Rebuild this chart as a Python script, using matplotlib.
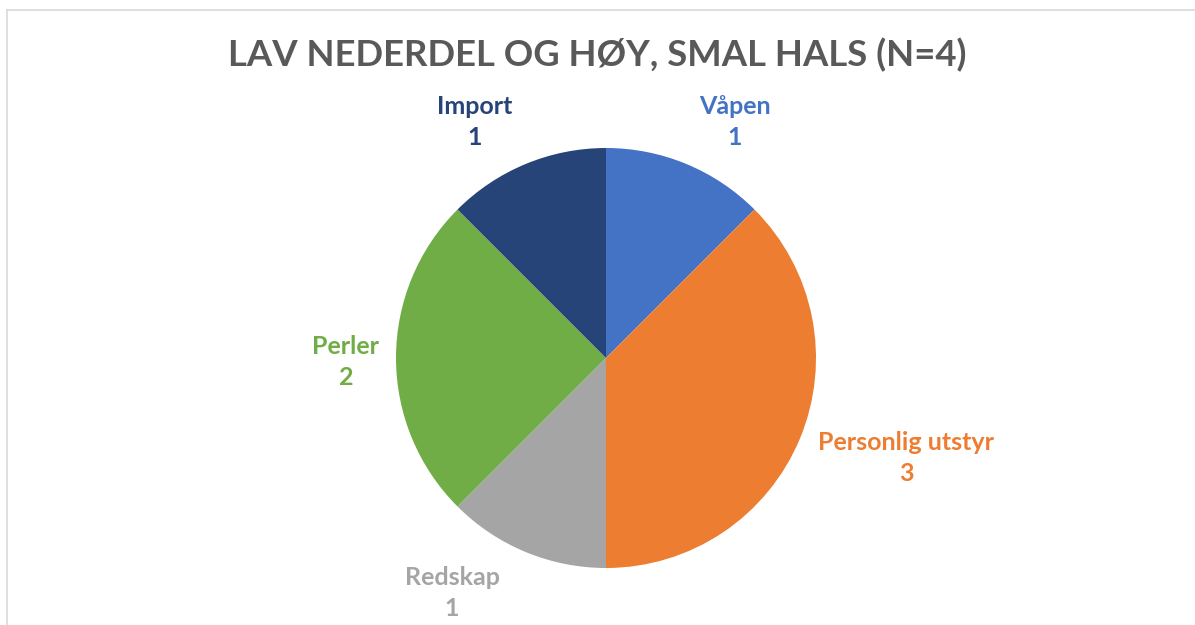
import matplotlib.pyplot as plt
from matplotlib.lines import Line2D

categories = ['Våpen', 'Personlig utstyr', 'Redskap', 'Perler', 'Import']
values = [1, 3, 1, 2, 1]
colors = ['#4472C4', '#ED7D31', '#A5A5A5', '#70AD47', '#264478']

title = 'LAV NEDERDEL OG HØY, SMAL HALS (N=4)'

# label block centres in pixels (from top-left)
label_pos = [(735, 122), (906, 458), (452, 593), (346, 362), (475, 122)]

W, H = 1195, 625
plt.rcParams['font.family'] = ['Lato', 'DejaVu Sans']

fig = plt.figure(figsize=(W / 100, H / 100), dpi=100)
ax = fig.add_axes([0, 0, 1, 1])

cx, cy, r = 606, H - 358, 210
ax.pie(values, colors=colors, startangle=90, counterclock=False,
       center=(cx, cy), radius=r, frame=True,
       wedgeprops={'linewidth': 0})
ax.set_xlim(0, W)
ax.set_ylim(0, H)
ax.set_aspect('auto')
ax.axis('off')

for cat, val, col, (lx, ly) in zip(categories, values, colors, label_pos):
    ax.text(lx, H - ly, f'{cat}\n{val}', color=col, fontsize=18, fontweight='bold',
            ha='center', va='center', linespacing=1.45)

fig.text(597 / W, 1 - 55 / H, title, color='#595959', fontsize=26.3,
         fontweight='bold', ha='center', va='center')

# light chart border (top and left visible)
fig.add_artist(Line2D([7 / W, 1], [1 - 10 / H, 1 - 10 / H], color='#D9D9D9', lw=1.2))
fig.add_artist(Line2D([7 / W, 7 / W], [0, 1 - 10 / H], color='#D9D9D9', lw=1.2))

fig.savefig('out.png', dpi=100)
